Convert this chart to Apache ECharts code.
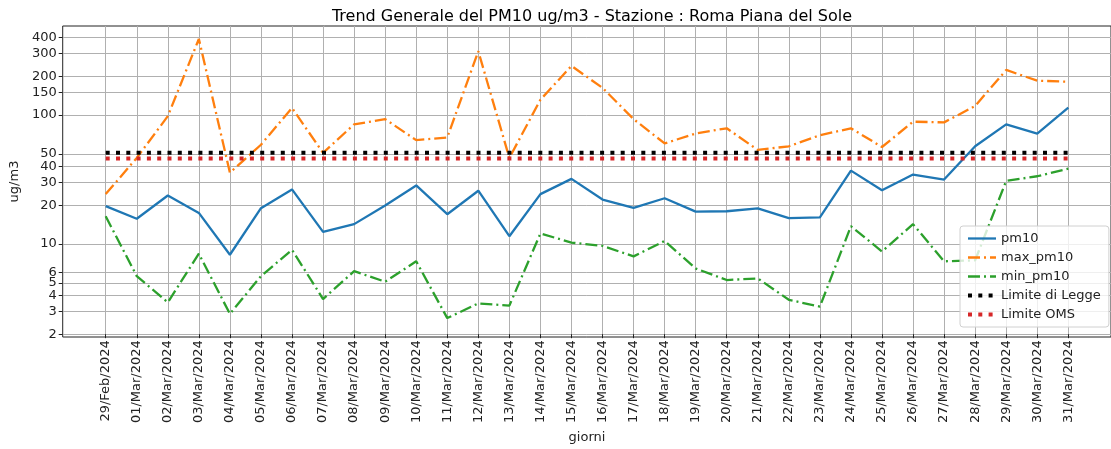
<!DOCTYPE html>
<html>
<head>
  <meta charset="utf-8">
  <style>
    html, body { width: 100%; height: 100%; margin: 0; padding: 0; overflow: hidden; background: #fff; }
    #container { width: 1111px; height: 449px; }
  </style>
</head>
<body>
  <div id="container"></div>
  <script src="https://cdn.jsdelivr.net/npm/echarts@6/dist/echarts.min.js"></script>
  <script>
    // dati
    var giorni = ['29/Feb/2024', '01/Mar/2024', '02/Mar/2024', '03/Mar/2024', '04/Mar/2024', '05/Mar/2024',
      '06/Mar/2024', '07/Mar/2024', '08/Mar/2024', '09/Mar/2024', '10/Mar/2024', '11/Mar/2024',
      '12/Mar/2024', '13/Mar/2024', '14/Mar/2024', '15/Mar/2024', '16/Mar/2024', '17/Mar/2024',
      '18/Mar/2024', '19/Mar/2024', '20/Mar/2024', '21/Mar/2024', '22/Mar/2024', '23/Mar/2024',
      '24/Mar/2024', '25/Mar/2024', '26/Mar/2024', '27/Mar/2024', '28/Mar/2024', '29/Mar/2024',
      '30/Mar/2024', '31/Mar/2024'];
    var pm10 = [19.1, 15.2, 23.1, 16.9, 7.95, 18.4, 25.8, 12.0, 13.8, 19.3, 27.7, 16.5,
      25.2, 11.1, 23.7, 31.2, 21.5, 18.5, 22.0, 17.3, 17.4, 18.3, 15.4, 15.6,
      36.2, 25.4, 33.7, 30.8, 56.1, 83.3, 70.6, 112.6];
    var maxPm10 = [23.7, 45.5, 96.5, 388, 34.9, 57.7, 112, 49.8, 83.3, 91.5, 62.7, 65.8,
      311, 45.5, 129.8, 238.7, 160.7, 91.5, 59.1, 70.6, 77.6, 52.5, 56.1, 68.5,
      77.6, 55.4, 87.4, 86.3, 116, 222, 182.9, 179.6];
    var minPm10 = [15.9, 5.41, 3.37, 8.1, 2.74, 5.41, 8.69, 3.58, 5.91, 4.89, 7.06, 2.54,
      3.31, 3.18, 11.67, 9.9, 9.33, 7.72, 10.2, 6.2, 5.04, 5.19, 3.53, 3.12,
      13.3, 8.43, 13.8, 7.06, 7.19, 30.1, 32.7, 37.5];
    var limiteLegge = 50;
    var limiteOms = 45;
    var yTicks = [2, 3, 4, 5, 6, 10, 20, 30, 40, 50, 100, 150, 200, 300, 400];
    var yMinorTicks = [7, 8, 9, 60, 70, 80, 90];
    var yMin = 1.9;
    var yMax = 490;

    var chart = echarts.init(document.getElementById('container'));
    var txt = '#222';
    var gridColor = '#b0b0b0';

    chart.setOption({
      animation: false,
      backgroundColor: '#fff',
      textStyle: { fontFamily: 'DejaVu Sans' },
      title: {
        text: 'Trend Generale del PM10 ug/m3 - Stazione : Roma Piana del Sole',
        left: 587,
        textAlign: 'center',
        top: 4,
        textStyle: { fontSize: 16, fontWeight: 'normal', color: '#000', fontFamily: 'DejaVu Sans' }
      },
      legend: {
        orient: 'vertical',
        left: 960,
        top: 226,
        itemWidth: 28,
        itemHeight: 14,
        itemGap: 6,
        padding: [6, 8, 6, 6],
        backgroundColor: 'rgba(255,255,255,0.8)',
        borderColor: '#d0d0d0',
        borderWidth: 1,
        borderRadius: 3,
        itemStyle: { opacity: 0 },
        lineStyle: { width: 'inherit' },
        textStyle: { fontSize: 13, color: txt, fontFamily: 'DejaVu Sans' },
        data: ['pm10', 'max_pm10', 'min_pm10', 'Limite di Legge', 'Limite OMS']
      },
      grid: [
        // cornice larga (come i margini di matplotlib)
        { left: 58, top: 26, width: 1058, height: 311, show: true, borderColor: '#222', borderWidth: 1, backgroundColor: '#fff' },
        // area dei dati
        { left: 105.7, top: 26, width: 962.6, height: 311 }
      ],
      xAxis: [
        { gridIndex: 0, type: 'value', min: 0, max: 1, show: false },
        {
          gridIndex: 1,
          type: 'category',
          data: giorni,
          boundaryGap: false,
          name: 'giorni',
          nameLocation: 'middle',
          nameGap: 95,
          nameTextStyle: { fontSize: 13, color: txt },
          axisLine: { show: false },
          axisTick: { show: true, length: 4, alignWithLabel: true, lineStyle: { color: '#222' } },
          axisLabel: { rotate: 90, margin: 6, fontSize: 13, color: txt, interval: 0 },
          splitLine: { show: true, lineStyle: { color: gridColor, width: 1 } }
        }
      ],
      yAxis: [
        {
          gridIndex: 0,
          type: 'log',
          logBase: 10,
          min: yMin,
          max: yMax,
          name: 'ug/m3',
          nameLocation: 'middle',
          nameGap: 30,
          nameTextStyle: { fontSize: 13, color: txt },
          axisLine: { show: false },
          axisTick: { show: true, length: 4, customValues: yTicks, lineStyle: { color: '#222' } },
          axisLabel: { customValues: yTicks, fontSize: 13, color: txt, margin: 6 },
          splitLine: { show: true, lineStyle: { color: gridColor, width: 1 } },
          minorTick: { show: false },
          minorSplitLine: { show: false }
        },
        {
          gridIndex: 0,
          type: 'log',
          logBase: 10,
          min: yMin,
          max: yMax,
          axisLine: { show: false },
          axisTick: { show: true, length: 2, customValues: yMinorTicks, lineStyle: { color: '#222' } },
          axisLabel: { show: false },
          splitLine: { show: false }
        },
        { gridIndex: 1, type: 'log', logBase: 10, min: yMin, max: yMax, show: false, splitLine: { show: false } }
      ],
      series: [
        {
          name: 'pm10', type: 'line', xAxisIndex: 1, yAxisIndex: 2, data: pm10,
          symbol: 'none', color: '#1f77b4',
          lineStyle: { width: 2.3, color: '#1f77b4' }
        },
        {
          name: 'max_pm10', type: 'line', xAxisIndex: 1, yAxisIndex: 2, data: maxPm10,
          symbol: 'none', color: '#ff7f0e',
          lineStyle: { width: 2.3, color: '#ff7f0e', type: [12, 4, 2, 4] }
        },
        {
          name: 'min_pm10', type: 'line', xAxisIndex: 1, yAxisIndex: 2, data: minPm10,
          symbol: 'none', color: '#2ca02c',
          lineStyle: { width: 2.3, color: '#2ca02c', type: [12, 4, 2, 4] }
        },
        {
          name: 'Limite di Legge', type: 'line', xAxisIndex: 1, yAxisIndex: 2,
          data: giorni.map(function () { return limiteLegge; }),
          symbol: 'none', color: '#000',
          lineStyle: { width: 4, color: '#000', type: [4, 6.3], cap: 'butt' }
        },
        {
          name: 'Limite OMS', type: 'line', xAxisIndex: 1, yAxisIndex: 2,
          data: giorni.map(function () { return limiteOms; }),
          symbol: 'none', color: '#d62728',
          lineStyle: { width: 4, color: '#d62728', type: [4, 6.3], cap: 'butt' }
        }
      ]
    });
  </script>
</body>
</html>
